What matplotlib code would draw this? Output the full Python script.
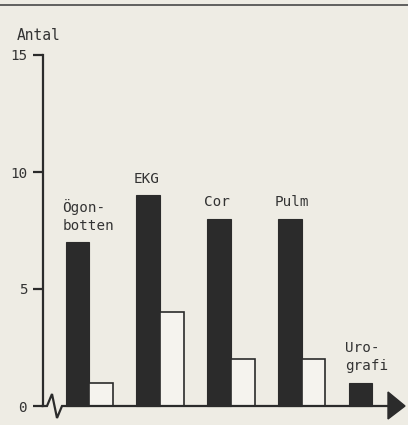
import matplotlib
matplotlib.use("Agg")
import matplotlib.pyplot as plt
import numpy as np
from matplotlib.patches import Polygon
from matplotlib.lines import Line2D

# data
categories = ["Ögon-\nbotten", "EKG", "Cor", "Pulm", "Uro-\ngrafi"]
black_vals = [7, 9, 8, 8, 1]
white_vals = [1, 4, 2, 2, 0]
yticks = [0, 5, 10, 15]

paper = "#eeece4"
ink = "#2b2b2b"
plt.rcParams['font.family'] = ['DejaVu Sans Mono', 'DejaVu Sans']

# pixel scale of the original drawing (group spacing / one unit of Antal)
gx, gy = 70.75, 23.4
x0_px, y0_px = 89.3, 406

def px2x(px):
    return (px - x0_px) / gx

def px2y(py):
    return (y0_px - py) / gy

fig = plt.figure(figsize=(4.08, 4.25), dpi=100, facecolor=paper)
ax = fig.add_axes([0, 0, 1, 1])
ax.set_facecolor(paper)
ax.set_xlim(px2x(0), px2x(408))
ax.set_ylim(px2y(425), px2y(0))

x = np.arange(len(categories))
w = 0.335
ax.bar(x - w / 2, black_vals, w, color=ink, edgecolor=ink, linewidth=0.8, zorder=3)
wx = [xi + w / 2 for xi, v in zip(x, white_vals) if v > 0]
wv = [v for v in white_vals if v > 0]
ax.bar(wx, wv, w, color="#f5f3ee", edgecolor=ink, linewidth=1.2, zorder=3)

for xi, lab, b, wh in zip(x, categories, black_vals, white_vals):
    ax.text(xi - w - 0.045, max(b, wh) + 0.4, lab, ha='left', va='bottom',
            fontsize=10.3, color="#333333", linespacing=1.35)

# y axis
yaxis_x = px2x(42.5)
for s in ['top', 'right', 'bottom']:
    ax.spines[s].set_visible(False)
ax.spines['left'].set_position(('data', yaxis_x))
ax.spines['left'].set_bounds(0, 15)
ax.spines['left'].set_linewidth(1.6)
ax.spines['left'].set_color(ink)
ax.set_yticks(yticks)
ax.set_yticklabels([str(t) for t in yticks])
ax.tick_params(axis='y', direction='out', length=7.5, width=1.6, color=ink,
               pad=3.5, labelsize=10.3, labelcolor="#333333")
ax.set_xticks([])

ax.text(px2x(17), px2y(40), "Antal", ha='left', va='baseline', fontsize=10.5,
        color="#333333")

# x axis with break and arrow
zx = [42.5, 47, 52, 57, 62, 390]
zy = [406, 406, 394, 418, 406, 406]
ax.plot([px2x(p) for p in zx], [px2y(p) for p in zy], color=ink, lw=1.6,
        solid_joinstyle='miter', zorder=4, clip_on=False)
arrow = Polygon([(px2x(388), px2y(392)), (px2x(405), px2y(406)), (px2x(388), px2y(419))],
                closed=True, color=ink, zorder=4)
ax.add_patch(arrow)

# top rule of the page
fig.add_artist(Line2D([0, 1], [1 - 5 / 425, 1 - 5 / 425], color="#555555", lw=1.3))

fig.savefig("out.png", dpi=100, facecolor=paper)
